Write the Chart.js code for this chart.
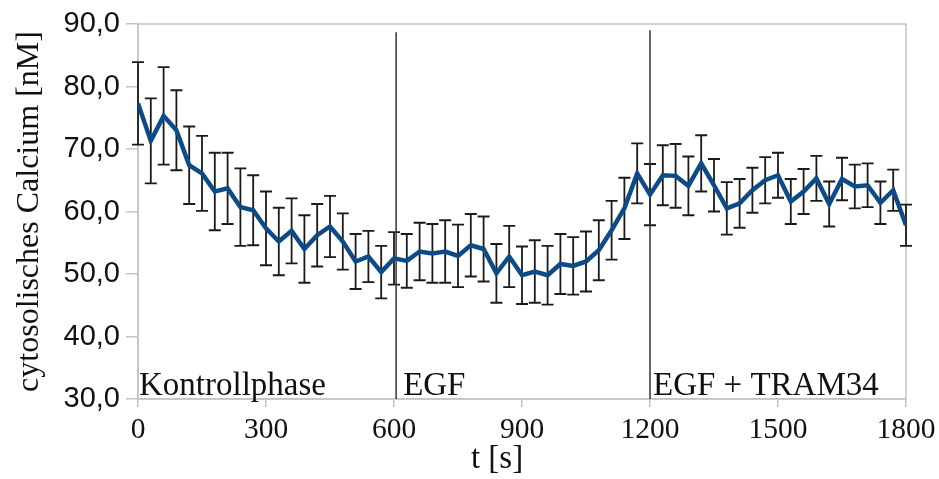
<!DOCTYPE html>
<html lang="de">
<head>
    <meta charset="UTF-8">
    <title>Cytosolisches Calcium</title>
    <style>
        html, body {
            margin: 0;
            padding: 0;
            background: #fff;
        }
        #wrap {
            width: 939px;
            height: 479px;
        }
    </style>
    <script src="https://cdn.jsdelivr.net/npm/chart.js"></script>
</head>
<body>
<div id="wrap"><canvas id="calciumChart" width="939" height="479"></canvas></div>
<script>
    // Messzeitpunkte [s]
    const times = [0, 30, 60, 90, 120, 150, 180, 210, 240, 270,
        300, 330, 360, 390, 420, 450, 480, 510, 540, 570,
        600, 630, 660, 690, 720, 750, 780, 810, 840, 870,
        900, 930, 960, 990, 1020, 1050, 1080, 1110, 1140, 1170,
        1200, 1230, 1260, 1290, 1320, 1350, 1380, 1410, 1440, 1470,
        1500, 1530, 1560, 1590, 1620, 1650, 1680, 1710, 1740, 1770, 1800];

    // Mittelwert cytosolisches Calcium [nM]
    const calcium = [77.3, 71.3, 75.3, 73.0, 67.4, 66.1, 63.2, 63.7, 60.7, 60.2,
        57.3, 55.2, 56.9, 54.0, 56.2, 57.6, 55.2, 52.0, 52.8, 50.3,
        52.5, 52.1, 53.6, 53.3, 53.6, 52.9, 54.6, 54.0, 50.1, 52.8,
        49.8, 50.4, 49.8, 51.6, 51.3, 52.0, 53.8, 57.0, 60.5, 66.1,
        62.7, 65.8, 65.7, 64.1, 67.7, 64.2, 60.5, 61.3, 63.4, 65.0,
        65.8, 61.6, 63.2, 65.3, 61.2, 65.2, 64.0, 64.2, 61.4, 63.4, 57.8];

    // Standardabweichung
    const calciumErr = [6.6, 6.8, 7.8, 6.4, 6.2, 6.0, 6.2, 5.7, 6.2, 5.6,
        5.9, 5.4, 5.2, 5.4, 5.0, 4.9, 4.5, 4.4, 4.1, 4.2,
        4.2, 4.3, 4.6, 4.7, 5.0, 5.0, 5.0, 5.2, 4.7, 4.9,
        4.6, 5.0, 4.7, 4.8, 4.6, 4.8, 4.8, 4.7, 4.9, 4.8,
        4.9, 4.8, 5.1, 4.7, 4.5, 4.2, 4.2, 3.9, 3.6, 3.7,
        3.6, 3.6, 3.6, 3.6, 3.6, 3.4, 3.5, 3.5, 3.4, 3.3, 3.3];

    // Phasen
    const phaseNames = ['Kontrollphase', 'EGF', 'EGF + TRAM34'];
    const phaseStart = [0, 605, 1200];
    const markerTop = [88.7, 89.0];

    const yTicks = [30, 40, 50, 60, 70, 80, 90];
    const xTicks = [0, 300, 600, 900, 1200, 1500, 1800];

    const serif = '"Liberation Serif", "Times New Roman", serif';
    const sans = '"Liberation Sans", Arial, sans-serif';

    const meanPoints = times.map((t, i) => ({ x: t, y: calcium[i] }));

    // vertical marker lines at phase changes
    const markerSets = phaseStart.slice(1).map((t, i) => ({
        data: [{ x: t, y: yTicks[0] }, { x: t, y: markerTop[i] }],
        borderColor: '#333333',
        borderWidth: 1.5,
        pointRadius: 0,
        order: 2
    }));

    const errorBars = {
        id: 'errorBars',
        beforeDatasetsDraw(chart) {
            const { ctx, scales: { x, y } } = chart;
            ctx.save();
            // plot frame
            ctx.strokeStyle = '#c4c4c4';
            ctx.lineWidth = 1.5;
            const a = chart.chartArea;
            ctx.strokeRect(a.left, a.top, a.right - a.left, a.bottom - a.top);

            ctx.strokeStyle = '#1a1a1a';
            ctx.lineWidth = 1.8;
            times.forEach((t, i) => {
                const px = x.getPixelForValue(t);
                const top = y.getPixelForValue(calcium[i] + calciumErr[i]);
                const bot = y.getPixelForValue(calcium[i] - calciumErr[i]);
                ctx.beginPath();
                ctx.moveTo(px, top);
                ctx.lineTo(px, bot);
                ctx.moveTo(px - 6, top);
                ctx.lineTo(px + 6, top);
                ctx.moveTo(px - 6, bot);
                ctx.lineTo(px + 6, bot);
                ctx.stroke();
            });
            ctx.restore();
        },
        afterDraw(chart) {
            const { ctx, scales: { x, y } } = chart;
            const offsets = [1, 7, 3];
            ctx.save();
            ctx.fillStyle = '#111';
            ctx.font = '33px ' + serif;
            ctx.textBaseline = 'alphabetic';
            ctx.textAlign = 'left';
            phaseNames.forEach((name, i) => {
                ctx.fillText(name, x.getPixelForValue(phaseStart[i]) + offsets[i], y.getPixelForValue(30) - 4);
            });
            // x axis title
            ctx.textAlign = 'center';
            ctx.fillText('t [s]', 497, 468);
            ctx.restore();
        }
    };

    const ctx = document.getElementById('calciumChart').getContext('2d');
    new Chart(ctx, {
        type: 'line',
        data: {
            datasets: [
                {
                    data: meanPoints,
                    borderColor: '#0d4b88',
                    borderWidth: 4.5,
                    pointRadius: 0,
                    tension: 0,
                    order: 1
                },
                ...markerSets
            ]
        },
        options: {
            responsive: false,
            animation: false,
            events: [],
            layout: {
                padding: { top: 24, right: 33, bottom: 0, left: 0 }
            },
            plugins: {
                legend: { display: false },
                tooltip: { enabled: false }
            },
            scales: {
                x: {
                    type: 'linear',
                    min: 0,
                    max: 1800,
                    afterBuildTicks: (scale) => { scale.ticks = xTicks.map(v => ({ value: v })); },
                    afterFit: (scale) => {
                        scale.height = 80;
                        scale.paddingLeft = 0;
                        scale.paddingRight = 0;
                    },
                    grid: {
                        drawOnChartArea: false,
                        drawTicks: true,
                        tickLength: 8,
                        color: '#c4c4c4',
                        lineWidth: 1.5
                    },
                    border: { color: '#c4c4c4', width: 1.5 },
                    ticks: {
                        maxRotation: 0,
                        padding: 6,
                        color: '#111',
                        font: { family: serif, size: 29.5 },
                        callback: (v) => String(v)
                    }
                },
                y: {
                    min: 30,
                    max: 90,
                    afterBuildTicks: (scale) => { scale.ticks = yTicks.map(v => ({ value: v })); },
                    afterFit: (scale) => { scale.width = 138; },
                    grid: {
                        drawOnChartArea: false,
                        drawTicks: true,
                        tickLength: 12,
                        color: '#c4c4c4',
                        lineWidth: 1.5
                    },
                    border: { color: '#c4c4c4', width: 1.5 },
                    ticks: {
                        padding: 6,
                        color: '#111',
                        font: { family: sans, size: 29 },
                        callback: (v) => v.toFixed(1).replace('.', ',')
                    },
                    title: {
                        display: true,
                        text: 'cytosolisches Calcium [nM]',
                        color: '#111',
                        font: { family: serif, size: 32 },
                        padding: { top: 10, bottom: 0 }
                    }
                }
            }
        },
        plugins: [errorBars]
    });
</script>
</body>
</html>
